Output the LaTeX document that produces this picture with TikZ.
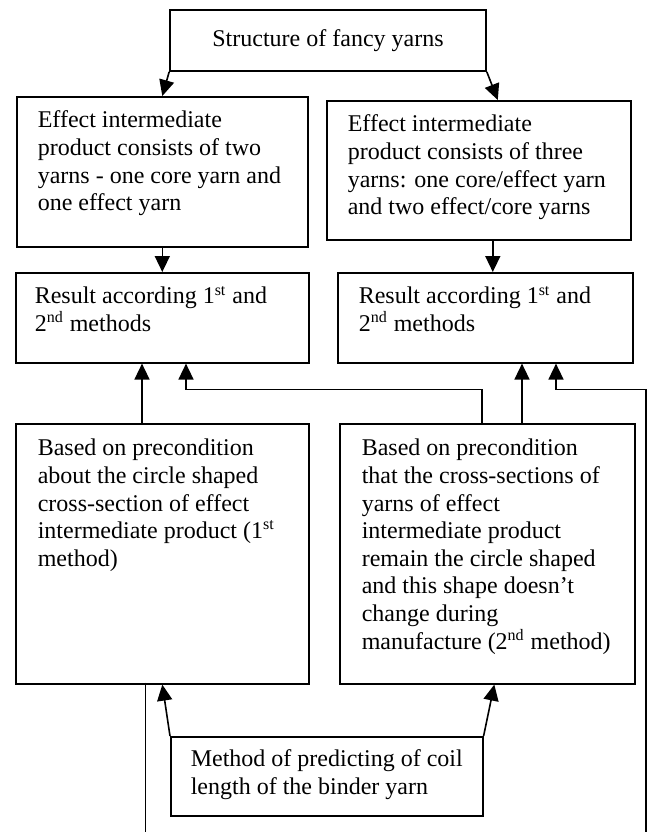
\documentclass[tikz,border=0pt]{standalone}
\usepackage{fontspec}
\setmainfont{Liberation Serif}
\usepackage{tikz}
\usetikzlibrary{arrows.meta,calc,positioning}

\begin{document}
\begin{tikzpicture}[x=0.5pt,y=-0.5pt,
  bx/.style={draw,line width=0.8pt,anchor=north west,align=flush left,inner ysep=0pt,inner xsep=2pt,
    font=\fontsize{12}{13.8}\selectfont},
  lpad/.style={execute at begin node={\leftskip=#1}},
  ar/.style={-{Triangle[length=8pt,width=7.5pt]},line width=0.8pt}]
  \useasboundingbox (0,0) rectangle (650,832);
  % boxes
  \node[draw,line width=0.8pt,minimum width=158pt,minimum height=30.5pt,inner sep=0pt,
    font=\fontsize{12}{13.8}\selectfont] (top) at (328,40.5) {Structure of fancy yarns};
  \node[bx,lpad=8.5pt,text width=141.5pt,text height=15.5pt,text depth=59.5pt] (e1) at (16,96)
    {Effect intermediate\\product consists of two\\yarns - one core yarn and\\one effect yarn};
  \node[bx,lpad=8.5pt,text width=148pt,text height=15.5pt,text depth=54pt] (e2) at (326,100)
    {Effect intermediate\\product consists of three\\yarns: one core/effect yarn\\and two effect/core yarns};
  \node[bx,lpad=7.5pt,text width=142.5pt,text height=15.5pt,text depth=29.5pt] (r1) at (15,272)
    {Result according 1\textsuperscript{st} and\\2\textsuperscript{nd} methods};
  \node[bx,lpad=8.5pt,text width=143.5pt,text height=15.5pt,text depth=29.5pt] (r2) at (337,272)
    {Result according 1\textsuperscript{st} and\\2\textsuperscript{nd} methods};
  \node[bx,lpad=9pt,text width=142.5pt,text height=16pt,text depth=114pt] (b1) at (15,423)
    {Based on precondition\\about the circle shaped\\cross-section of effect\\intermediate product (1\textsuperscript{st}\\method)};
  \node[bx,lpad=9pt,text width=143.5pt,text height=16pt,text depth=114pt] (b2) at (339,423)
    {Based on precondition\\that the cross-sections of\\yarns of effect\\intermediate product\\remain the circle shaped\\and this shape doesn't\\change during\\manufacture (2\textsuperscript{nd} method)};
  \node[bx,lpad=8pt,text width=152pt,text height=15pt,text depth=24.5pt] (m) at (170,736)
    {Method of predicting of coil\\length of the binder yarn};
  % free ends at the bottom edge
  \coordinate (lb) at (145,832);
  \coordinate (rb) at (646,832);
  % connectors
  \draw[ar] (top.south west) -- (e1.north);
  \draw[ar] (top.south east) -- ($(e2.north)+(19,0)$);
  \draw[ar] (e1.south) -- (r1.north);
  \draw[ar] ($(e2.south)+(14,0)$) -- ($(e2.south |- r2.north)+(14,0)$);
  \draw[ar] ($(b1.north west)+(127,0)$) -- ($(r1.south west)+(127,0)$);
  \draw[ar] ($(b2.north west)+(143,0)$) |- ($(r1.south west)+(171,26)$) -- ($(r1.south west)+(171,0)$);
  \draw[ar] ($(b2.north west)+(183,0)$) -- ($(b2.north west |- r2.south)+(183,0)$);
  \draw[ar] (rb) |- ($(r2.south west)+(219,26)$) -- ($(r2.south west)+(219,0)$);
  \draw[line width=0.5pt] ($(b1.south west)+(130,-2)$) -- (lb);
  \draw[ar] (m.north west) -- (b1.south);
  \draw[ar] (m.north east) -- ($(b2.south)+(7,0)$);
\end{tikzpicture}
\end{document}
